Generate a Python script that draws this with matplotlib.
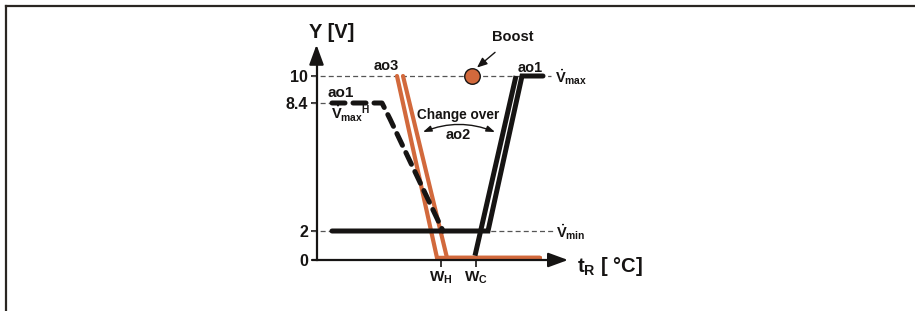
import numpy as np
import matplotlib
matplotlib.use('Agg')
from matplotlib import pyplot as plt
from matplotlib.lines import Line2D

plt.rcParams['font.family'] = ['Liberation Sans Narrow', 'Liberation Sans', 'DejaVu Sans']
plt.rcParams['font.weight'] = 'bold'
plt.rcParams['mathtext.fontset'] = 'custom'
plt.rcParams['mathtext.rm'] = 'Liberation Sans:bold'
plt.rcParams['mathtext.it'] = 'Liberation Sans:bold'
plt.rcParams['mathtext.bf'] = 'Liberation Sans:bold'

# schematic curves (x = temperature, arbitrary units; y = output voltage)
ao1_x = [1.6, 17.2, 20.6, 22.7]
ao1_y = [2, 2, 10, 10]
ao2_x = [15.9, 20.0]
ao2_y = [0.3, 10]
ao1_h_x = [1.6, 6.6, 7.4, 12.7]
ao1_h_y = [8.4, 8.4, 7.6, 2]
ao3_a_x = [8.1, 12.1, 22.4]
ao3_a_y = [10, 0.15, 0.15]
ao3_b_x = [8.7, 13.1, 22.4]
ao3_b_y = [10, 0.15, 0.15]
boost_x, boost_y = 15.6, 10

y_ticks = [0, 2, 8.4, 10]
y_tick_labels = ['0', '2', '8.4', '10']
x_ticks = [12.5, 16.0]
x_tick_labels = [r'$\mathrm{W_H}$', r'$\mathrm{W_C}$']

ORANGE = '#d2693c'
BLACK = '#161413'
GRAY = '#555555'

# schematic (non-linear) voltage axis
knots_v = [-20, 0, 2, 8.4, 10, 30]
knots_p = [-290, 0, 29, 157, 184, 521.5]


def fwd(v):
    return np.interp(v, knots_v, knots_p)


def inv(p):
    return np.interp(p, knots_p, knots_v)


fig = plt.figure(figsize=(9.15, 3.11), dpi=100)
ax = fig.add_axes([0, 0, 1, 1])
ax.set_yscale('function', functions=(fwd, inv))
ax.set_xlim(-31.6, 59.9)
ax.set_ylim(inv(-51), inv(260))
ax.patch.set_alpha(0)

# axes
for s in ['top', 'right']:
    ax.spines[s].set_visible(False)
ax.spines['left'].set_position(('data', 0.05))
ax.spines['bottom'].set_position(('data', 0))
ax.spines['left'].set_bounds(0, 11.5)
ax.spines['bottom'].set_bounds(-0.3, 24.5)
for s in ['left', 'bottom']:
    ax.spines[s].set_linewidth(1.6)
    ax.spines[s].set_color(BLACK)
ax.set_yticks(y_ticks, y_tick_labels)
ax.set_xticks(x_ticks, x_tick_labels)
ax.yaxis.set_minor_locator(plt.NullLocator())
ax.tick_params(axis='y', length=4, width=1.2, pad=2, labelsize=11.5, colors=BLACK)
ax.tick_params(axis='x', length=5, width=1.2, pad=2, labelsize=11, colors=BLACK)

arrow_style = dict(arrowstyle='-|>,head_length=0.6,head_width=0.22', mutation_scale=20,
                   lw=1.6, color=BLACK, shrinkA=0, shrinkB=0)
ax.annotate('', xy=(0.05, 11.85), xytext=(0.05, 11), arrowprops=arrow_style)
ax.annotate('', xy=(25.2, 0), xytext=(24, 0), arrowprops=arrow_style)

# reference lines
ax.plot([-0.4, 23.5], [10, 10], ls=(0, (4, 2.5)), lw=0.9, color=GRAY)
ax.plot([-0.4, 1.6], [8.4, 8.4], ls=(0, (4, 2.5)), lw=0.9, color=GRAY)
ax.plot([-0.4, 23.7], [2, 2], ls=(0, (4, 2.5)), lw=0.9, color=GRAY)

# curves
ax.plot(ao3_a_x, ao3_a_y, color=ORANGE, lw=3.0, solid_joinstyle='miter', solid_capstyle='round')
ax.plot(ao3_b_x, ao3_b_y, color=ORANGE, lw=3.0, solid_joinstyle='miter', solid_capstyle='round')
ax.plot(ao1_h_x, ao1_h_y, color=BLACK, lw=3.6, ls=(0, (2.6, 1.6)), dash_capstyle='round')
ax.plot(ao1_x, ao1_y, color=BLACK, lw=3.6, solid_joinstyle='miter', solid_capstyle='round')
ax.plot(ao2_x, ao2_y, color=BLACK, lw=3.6, solid_capstyle='butt')
ax.scatter([boost_x], [boost_y], s=125, color=ORANGE, edgecolor=BLACK, linewidth=1.0, zorder=5)

# labels
ax.text(1.6, 12.55, 'Y [V]', ha='center', va='center', fontsize=14.5, color=BLACK)
ax.text(26.1, -0.42, r'$\mathrm{t_R}$ [ °C]', ha='left', va='center', fontsize=14.5, color=BLACK)
ax.text(7.0, 10.6, 'ao3', ha='center', va='center', fontsize=10.5, color=BLACK)
ax.text(21.4, 10.5, 'ao1', ha='center', va='center', fontsize=10.5, color=BLACK)
ax.text(2.5, 9.0, 'ao1', ha='center', va='center', fontsize=11, color=BLACK)
ax.text(1.5, 7.85, r'$\dot{\mathrm{V}}_{\mathrm{max}}{}^{\mathrm{H}}$', ha='left', va='center',
        fontsize=10.5, color=BLACK)
ax.text(23.9, 9.95, r'$\dot{\mathrm{V}}_{\mathrm{max}}$', ha='left', va='center', fontsize=10.5, color=BLACK)
ax.text(24.0, 1.9, r'$\dot{\mathrm{V}}_{\mathrm{min}}$', ha='left', va='center', fontsize=10.5, color=BLACK)
ax.text(14.2, 7.8, 'Change over', ha='center', va='center', fontsize=9.8, color=BLACK)
ax.text(14.2, 6.8, 'ao2', ha='center', va='center', fontsize=10.5, color=BLACK)
ax.annotate('', xy=(10.7, 6.95), xytext=(17.9, 6.95),
            arrowprops=dict(arrowstyle='<|-|>,head_length=0.5,head_width=0.18', mutation_scale=10,
                            lw=1.0, color=BLACK, connectionstyle='arc3,rad=0.2',
                            shrinkA=0, shrinkB=0))
ax.annotate('Boost', xy=(16.1, 10.5), xytext=(19.7, 12.3), ha='center', va='center',
            fontsize=10.5, color=BLACK,
            arrowprops=dict(arrowstyle='-|>,head_length=0.6,head_width=0.25', mutation_scale=10,
                            lw=1.0, color=BLACK, shrinkA=6, shrinkB=0))

# page frame
fig.add_artist(Line2D([6 / 915, 1], [1 - 6 / 311, 1 - 6 / 311], transform=fig.transFigure,
                      lw=1.6, color='#2a2622'))
fig.add_artist(Line2D([6 / 915, 6 / 915], [0, 1 - 6 / 311], transform=fig.transFigure,
                      lw=1.6, color='#2a2622'))

fig.savefig('out.png', dpi=100)
